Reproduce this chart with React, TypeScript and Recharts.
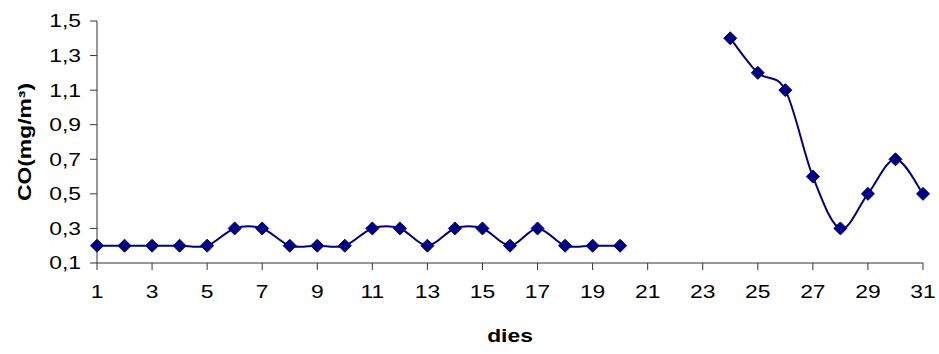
import React from 'react';
import { LineChart, Line, XAxis, YAxis, Label } from 'recharts';

const days: number[] = [1,2,3,4,5,6,7,8,9,10,11,12,13,14,15,16,17,18,19,20,21,22,23,24,25,26,27,28,29,30,31];
const coValues: (number | null)[] = [0.2,0.2,0.2,0.2,0.2,0.3,0.3,0.2,0.2,0.2,0.3,0.3,0.2,0.3,0.3,0.2,0.3,0.2,0.2,0.2,null,null,null,1.4,1.2,1.1,0.6,0.3,0.5,0.7,0.5];
const xTicks: number[] = [1,3,5,7,9,11,13,15,17,19,21,23,25,27,29,31];
const yTicks: number[] = [0.1,0.3,0.5,0.7,0.9,1.1,1.3,1.5];
const xTitle = 'dies';
const yTitle = 'CO(mg/m³)';

const data = days.map((d, i) => ({ day: d, co: coValues[i] }));

function excelSmooth(context: any) {
  let pts: [number, number][] = [];
  return {
    areaStart() {},
    areaEnd() {},
    lineStart() { pts = []; },
    lineEnd() {
      const n = pts.length;
      if (n === 0) return;
      context.moveTo(pts[0][0], pts[0][1]);
      if (n === 1) { context.lineTo(pts[0][0], pts[0][1]); return; }
      for (let i = 0; i < n - 1; i++) {
        const p0 = pts[i - 1] || pts[i];
        const p1 = pts[i];
        const p2 = pts[i + 1];
        const p3 = pts[i + 2] || p2;
        const c1x = p1[0] + (p2[0] - p0[0]) / 6;
        const c1y = p1[1] + (p2[1] - p0[1]) / 6;
        const c2x = p2[0] - (p3[0] - p1[0]) / 6;
        const c2y = p2[1] - (p3[1] - p1[1]) / 6;
        context.bezierCurveTo(c1x, c1y, c2x, c2y, p2[0], p2[1]);
      }
    },
    point(x: number, y: number) { pts.push([+x, +y]); },
  };
}

const Diamond = (props: any) => {
  const { cx, cy, payload } = props;
  if (payload == null || payload.co == null || cx == null || cy == null) return null;
  const r = 6.5;
  return (
    <polygon
      key={`d-${payload.day}`}
      points={`${cx},${cy - r} ${cx + r},${cy} ${cx},${cy + r} ${cx - r},${cy}`}
      fill="#000080"
      stroke="#000080"
      strokeWidth={1}
    />
  );
};

const fmt = (v: number) => v.toFixed(1).replace('.', ',');
const font = 'Liberation Sans, Arial, sans-serif';
const SX = 1.27;
const FS = 18;

const YTick = (props: any) => {
  const { x, y, payload } = props;
  return (
    <text
      transform={`translate(${x},${y}) scale(${SX},1)`}
      x={0}
      y={0}
      dy="0.355em"
      textAnchor="end"
      fill="#000"
      fontSize={FS}
      fontFamily={font}
    >
      {fmt(payload.value)}
    </text>
  );
};

const XTick = (props: any) => {
  const { x, y, payload } = props;
  return (
    <text
      transform={`translate(${x},${y}) scale(${SX},1)`}
      x={0}
      y={0}
      dy="0.71em"
      textAnchor="middle"
      fill="#000"
      fontSize={FS}
      fontFamily={font}
    >
      {payload.value}
    </text>
  );
};

const YTitle = (props: any) => {
  const vb = props.viewBox || { x: 0, y: 21, width: 97, height: 242 };
  const cy = vb.y + vb.height / 2;
  return (
    <text
      transform={`translate(25,${cy}) rotate(-90) scale(${SX},1)`}
      x={0}
      y={0}
      dy="0.355em"
      textAnchor="middle"
      fill="#000"
      fontSize={FS}
      fontWeight="bold"
      fontFamily={font}
    >
      {yTitle}
    </text>
  );
};

const XTitle = (props: any) => {
  const vb = props.viewBox || { x: 97, y: 263, width: 826, height: 91 };
  const cx = vb.x + vb.width / 2;
  return (
    <text
      transform={`translate(${cx},342) scale(${SX},1)`}
      x={0}
      y={0}
      textAnchor="middle"
      fill="#000"
      fontSize={FS}
      fontWeight="bold"
      fontFamily={font}
    >
      {xTitle}
    </text>
  );
};

export default function App() {
  return (
    <div style={{ position: 'absolute', left: 0, top: 0, width: 939, height: 354, background: '#fff' }}>
      <LineChart
        width={939}
        height={354}
        data={data}
        margin={{ top: 21, right: 16, bottom: 0, left: 0 }}
      >
        <XAxis
          dataKey="day"
          type="number"
          domain={[1, 31]}
          ticks={xTicks}
          interval={0}
          height={91}
          stroke="#333"
          tickSize={7}
          tickMargin={15}
          tick={<XTick />}
          tickLine={{ stroke: '#333' }}
        >
          <Label content={<XTitle />} />
        </XAxis>
        <YAxis
          type="number"
          domain={[0.1, 1.5]}
          ticks={yTicks}
          interval={0}
          width={97}
          stroke="#333"
          tickSize={7}
          tickMargin={9}
          tick={<YTick />}
          tickLine={{ stroke: '#333' }}
        >
          <Label content={<YTitle />} />
        </YAxis>
        <Line
          dataKey="co"
          type={excelSmooth as any}
          stroke="#000080"
          strokeWidth={2}
          dot={<Diamond />}
          activeDot={false}
          connectNulls={false}
          isAnimationActive={false}
        />
      </LineChart>
    </div>
  );
}
